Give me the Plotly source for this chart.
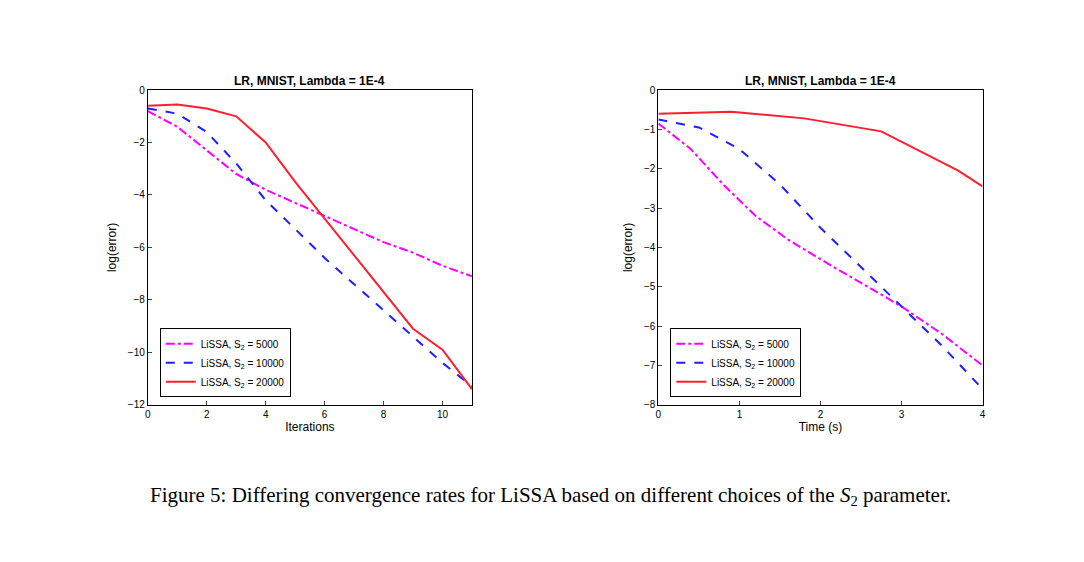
import plotly.graph_objects as go

it = list(range(12))
l_mag = [-0.8,-1.4,-2.3,-3.2,-3.8,-4.3,-4.8,-5.3,-5.8,-6.2,-6.7,-7.1]
l_blue = [-0.7,-0.9,-1.6,-2.8,-4.2,-5.3,-6.4,-7.4,-8.4,-9.4,-10.4,-11.3]
l_red = [-0.6,-0.55,-0.7,-1.0,-2.0,-3.5,-4.9,-6.3,-7.7,-9.1,-9.9,-11.4]

r_mag_t = [0,0.4,0.8,1.2,1.6,2,2.5,3,3.5,4]
r_mag = [-0.85,-1.5,-2.4,-3.2,-3.8,-4.3,-4.9,-5.5,-6.2,-7.0]
r_blue_t = [0,0.5,1,1.5,2,2.5,3,3.5,4]
r_blue = [-0.75,-0.95,-1.5,-2.4,-3.5,-4.5,-5.5,-6.5,-7.6]
r_red_t = [0,0.9,1.8,2.75,3.7,4]
r_red = [-0.6,-0.55,-0.72,-1.05,-2.05,-2.45]

names = ["LiSSA, S<sub>2</sub> = 5000", "LiSSA, S<sub>2</sub> = 10000", "LiSSA, S<sub>2</sub> = 20000"]
styles = [("#ff00ff","dashdot"),("#1f1fff","dash"),("#ff1f2f","solid")]

fig = go.Figure()
for (x,y),nm,(c,d) in zip([(it,l_mag),(it,l_blue),(it,l_red)],names,styles):
    fig.add_trace(go.Scatter(x=x,y=y,name=nm,mode="lines",line=dict(color=c,dash=d,width=2),xaxis="x",yaxis="y",legend="legend"))
for (x,y),nm,(c,d) in zip([(r_mag_t,r_mag),(r_blue_t,r_blue),(r_red_t,r_red)],names,styles):
    fig.add_trace(go.Scatter(x=x,y=y,name=nm,mode="lines",line=dict(color=c,dash=d,width=2),xaxis="x2",yaxis="y2",legend="legend2"))

ax = dict(showline=True,mirror=True,linecolor="black",linewidth=1,ticks="inside",ticklen=4,showgrid=False,zeroline=False,
          tickfont=dict(size=10,color="black"),automargin=False)
Y0, Y1 = 0.294, 0.854
fig.update_layout(
    width=1084,height=562,margin=dict(l=0,r=0,t=0,b=0),
    paper_bgcolor="white",plot_bgcolor="white",
    font=dict(family="Liberation Sans",color="black"),
    xaxis=dict(ax,domain=[0.129,0.428],range=[0,11],dtick=2,title=dict(text="Iterations",font=dict(size=12),standoff=2)),
    yaxis=dict(ax,domain=[Y0,Y1],range=[-12,0],dtick=2,title=dict(text="log(error)",font=dict(size=12),standoff=8)),
    xaxis2=dict(ax,domain=[0.600,0.899],range=[0,4],dtick=1,anchor="y2",title=dict(text="Time (s)",font=dict(size=12),standoff=2)),
    yaxis2=dict(ax,domain=[Y0,Y1],range=[-8,0],dtick=1,anchor="x2",title=dict(text="log(error)",font=dict(size=12),standoff=8)),
    legend=dict(x=0.14,y=0.43,xanchor="left",yanchor="top",bordercolor="black",borderwidth=1,bgcolor="white",
                font=dict(size=10),tracegroupgap=0),
    legend2=dict(x=0.611,y=0.43,xanchor="left",yanchor="top",bordercolor="black",borderwidth=1,bgcolor="white",
                 font=dict(size=10),tracegroupgap=0),
    annotations=[
        dict(text="<b>LR, MNIST, Lambda = 1E-4</b>",x=0.2785,y=Y1,xref="paper",yref="paper",xanchor="center",yanchor="bottom",showarrow=False,font=dict(size=12)),
        dict(text="<b>LR, MNIST, Lambda = 1E-4</b>",x=0.7495,y=Y1,xref="paper",yref="paper",xanchor="center",yanchor="bottom",showarrow=False,font=dict(size=12)),
        dict(text="Figure 5: Differing convergence rates for LiSSA based on different choices of the <i>S</i><sub>2</sub> parameter.",
             x=0.5,y=0.105,xref="paper",yref="paper",xanchor="center",showarrow=False,font=dict(size=21,family="Liberation Serif")),
    ],
)
fig.write_html("out.html")
